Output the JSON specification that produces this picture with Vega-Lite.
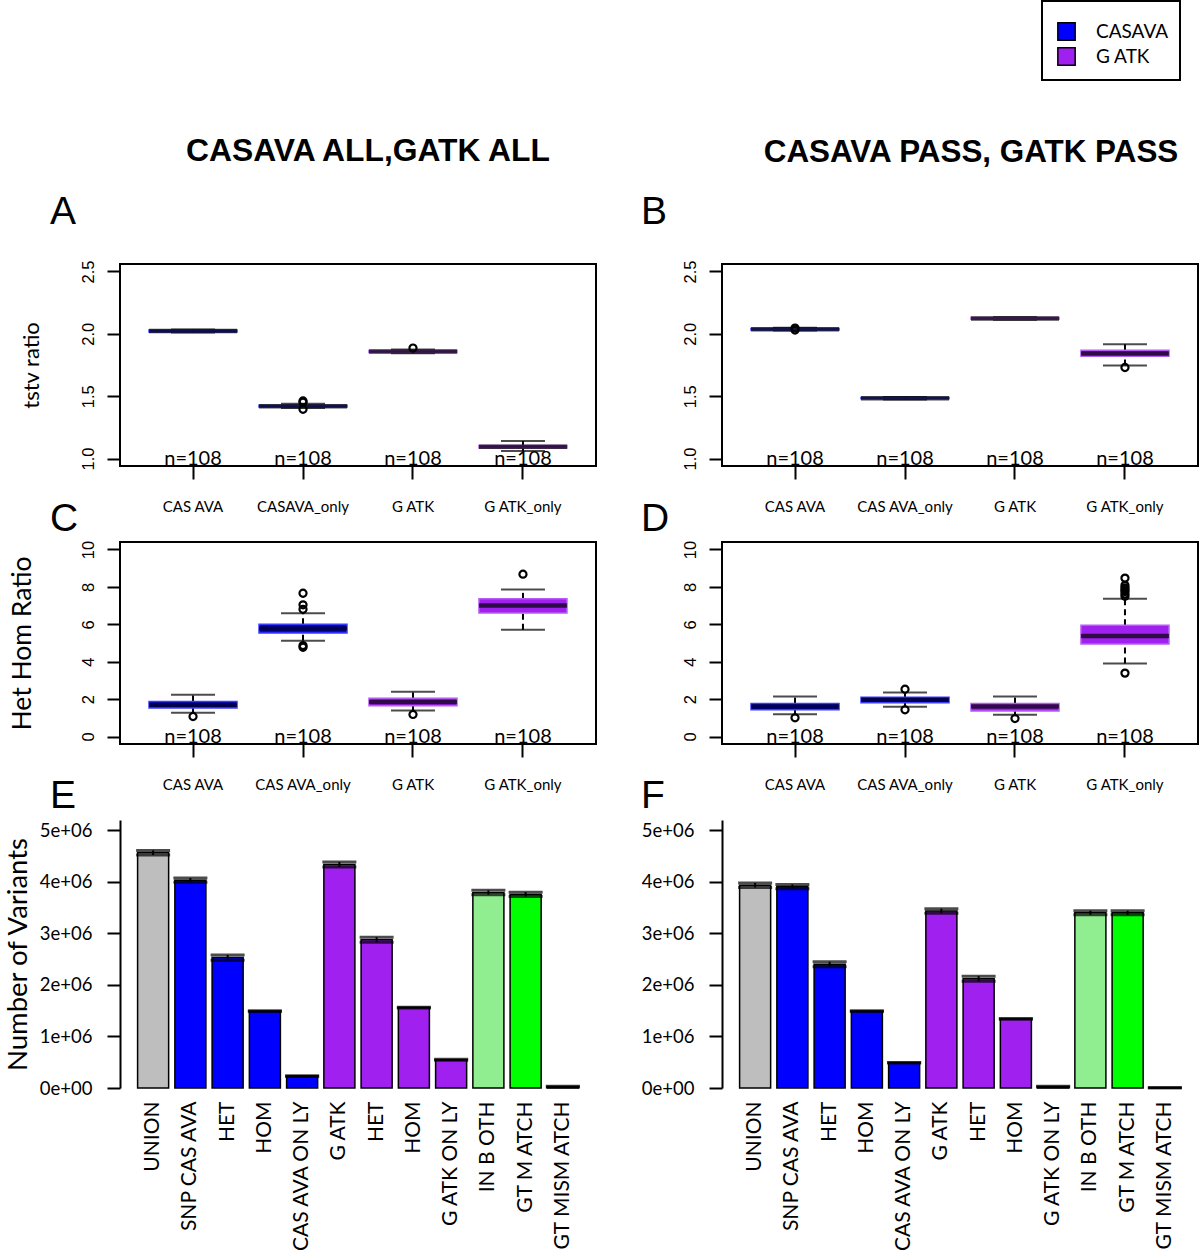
{
  "$schema": "https://vega.github.io/schema/vega-lite/v6.json",
  "background": "white",
  "padding": {"left": 4, "top": 0, "right": 0, "bottom": 0},
  "columns": 2,
  "bounds": "flush",
  "spacing": {"row": 76, "column": 126},
  "resolve": {"scale": {"fill": "independent", "stroke": "independent"}},
  "config": {
    "view": {"stroke": null},
    "font": "Lato",
    "axis": {"grid": false, "domainColor": "black", "domainWidth": 2, "tickColor": "black", "tickWidth": 2, "tickSize": 13, "labelColor": "black", "titleColor": "black", "labelFont": "Lato", "titleFont": "Lato", "titleFontWeight": "normal", "labelOverlap": false},
    "legend": {"strokeWidth": 2},
    "title": {"color": "black"}
  },
  "datasets": {
    "a_box": [
      {"cat": "CAS AVA", "caller": "CASAVA", "lower": 2.01, "q1": 2.015, "median": 2.022, "q3": 2.03, "upper": 2.035, "n": "n=108"},
      {"cat": "CASAVA_only", "caller": "CASAVA", "lower": 1.405, "q1": 1.413, "median": 1.42, "q3": 1.428, "upper": 1.44, "n": "n=108"},
      {"cat": "G ATK", "caller": "G ATK", "lower": 1.845, "q1": 1.851, "median": 1.858, "q3": 1.866, "upper": 1.875, "n": "n=108"},
      {"cat": "G ATK_only", "caller": "G ATK", "lower": 1.06, "q1": 1.085, "median": 1.095, "q3": 1.105, "upper": 1.14, "n": "n=108"}
    ],
    "a_out": [
      {"cat": "CASAVA_only", "v": 1.395},
      {"cat": "CASAVA_only", "v": 1.452},
      {"cat": "CASAVA_only", "v": 1.462},
      {"cat": "G ATK", "v": 1.886}
    ],
    "b_box": [
      {"cat": "CAS AVA", "caller": "CASAVA", "lower": 2.027, "q1": 2.031, "median": 2.037, "q3": 2.043, "upper": 2.048, "n": "n=108"},
      {"cat": "CAS AVA_only", "caller": "CASAVA", "lower": 1.474, "q1": 1.479, "median": 1.484, "q3": 1.49, "upper": 1.494, "n": "n=108"},
      {"cat": "G ATK", "caller": "G ATK", "lower": 2.112, "q1": 2.117, "median": 2.123, "q3": 2.13, "upper": 2.135, "n": "n=108"},
      {"cat": "G ATK_only", "caller": "G ATK", "lower": 1.746, "q1": 1.82, "median": 1.842, "q3": 1.868, "upper": 1.917, "n": "n=108"}
    ],
    "b_out": [
      {"cat": "CAS AVA", "v": 2.03},
      {"cat": "CAS AVA", "v": 2.046},
      {"cat": "G ATK_only", "v": 1.73}
    ],
    "c_box": [
      {"cat": "CAS AVA", "caller": "CASAVA", "lower": 1.27, "q1": 1.52, "median": 1.7, "q3": 1.875, "upper": 2.23, "n": "n=108"},
      {"cat": "CAS AVA_only", "caller": "CASAVA", "lower": 5.125, "q1": 5.54, "median": 5.77, "q3": 6.0, "upper": 6.59, "n": "n=108"},
      {"cat": "G ATK", "caller": "G ATK", "lower": 1.39, "q1": 1.64, "median": 1.84, "q3": 2.04, "upper": 2.39, "n": "n=108"},
      {"cat": "G ATK_only", "caller": "G ATK", "lower": 5.71, "q1": 6.61, "median": 7.0, "q3": 7.36, "upper": 7.86, "n": "n=108"}
    ],
    "c_out": [
      {"cat": "CAS AVA", "v": 1.07},
      {"cat": "CAS AVA_only", "v": 7.66},
      {"cat": "CAS AVA_only", "v": 7.04},
      {"cat": "CAS AVA_only", "v": 6.8},
      {"cat": "CAS AVA_only", "v": 4.86},
      {"cat": "CAS AVA_only", "v": 4.77},
      {"cat": "G ATK", "v": 1.18},
      {"cat": "G ATK_only", "v": 8.68}
    ],
    "d_box": [
      {"cat": "CAS AVA", "caller": "CASAVA", "lower": 1.19, "q1": 1.43, "median": 1.6, "q3": 1.76, "upper": 2.14, "n": "n=108"},
      {"cat": "CAS AVA_only", "caller": "CASAVA", "lower": 1.59, "q1": 1.8, "median": 1.96, "q3": 2.1, "upper": 2.35, "n": "n=108"},
      {"cat": "G ATK", "caller": "G ATK", "lower": 1.16, "q1": 1.37, "median": 1.6, "q3": 1.76, "upper": 2.14, "n": "n=108"},
      {"cat": "G ATK_only", "caller": "G ATK", "lower": 3.9, "q1": 4.94, "median": 5.38, "q3": 5.95, "upper": 7.36, "n": "n=108"}
    ],
    "d_out": [
      {"cat": "CAS AVA", "v": 1.0},
      {"cat": "CAS AVA_only", "v": 2.53},
      {"cat": "CAS AVA_only", "v": 1.43},
      {"cat": "G ATK", "v": 0.96},
      {"cat": "G ATK_only", "v": 8.47},
      {"cat": "G ATK_only", "v": 8.08},
      {"cat": "G ATK_only", "v": 7.95},
      {"cat": "G ATK_only", "v": 7.85},
      {"cat": "G ATK_only", "v": 7.75},
      {"cat": "G ATK_only", "v": 7.62},
      {"cat": "G ATK_only", "v": 7.5},
      {"cat": "G ATK_only", "v": 3.39}
    ],
    "e_bar": [
      {"cat": "UNION", "grp": "union", "mean": 4565000, "lo": 4520000, "hi": 4610000},
      {"cat": "SNP CAS AVA", "grp": "casava", "mean": 4030000, "lo": 3990000, "hi": 4075000},
      {"cat": "HET|1", "grp": "casava", "mean": 2530000, "lo": 2480000, "hi": 2580000},
      {"cat": "HOM|1", "grp": "casava", "mean": 1490000, "lo": 1482000, "hi": 1498000},
      {"cat": "CAS AVA ON LY", "grp": "casava", "mean": 232000, "lo": 225000, "hi": 240000},
      {"cat": "G ATK", "grp": "gatk", "mean": 4335000, "lo": 4290000, "hi": 4385000},
      {"cat": "HET|2", "grp": "gatk", "mean": 2875000, "lo": 2830000, "hi": 2925000},
      {"cat": "HOM|2", "grp": "gatk", "mean": 1560000, "lo": 1552000, "hi": 1568000},
      {"cat": "G ATK ON LY", "grp": "gatk", "mean": 548000, "lo": 540000, "hi": 556000},
      {"cat": "IN B OTH", "grp": "both", "mean": 3790000, "lo": 3750000, "hi": 3835000},
      {"cat": "GT M ATCH", "grp": "match", "mean": 3755000, "lo": 3715000, "hi": 3800000},
      {"cat": "GT MISM ATCH", "grp": "mismatch", "mean": 26000, "lo": 20000, "hi": 32000}
    ],
    "f_bar": [
      {"cat": "UNION", "grp": "union", "mean": 3935000, "lo": 3890000, "hi": 3980000},
      {"cat": "SNP CAS AVA", "grp": "casava", "mean": 3910000, "lo": 3865000, "hi": 3950000},
      {"cat": "HET|1", "grp": "casava", "mean": 2400000, "lo": 2355000, "hi": 2450000},
      {"cat": "HOM|1", "grp": "casava", "mean": 1490000, "lo": 1482000, "hi": 1498000},
      {"cat": "CAS AVA ON LY", "grp": "casava", "mean": 490000, "lo": 484000, "hi": 496000},
      {"cat": "G ATK", "grp": "gatk", "mean": 3435000, "lo": 3390000, "hi": 3480000},
      {"cat": "HET|2", "grp": "gatk", "mean": 2120000, "lo": 2070000, "hi": 2170000},
      {"cat": "HOM|2", "grp": "gatk", "mean": 1340000, "lo": 1332000, "hi": 1348000},
      {"cat": "G ATK ON LY", "grp": "gatk", "mean": 26000, "lo": 20000, "hi": 32000},
      {"cat": "IN B OTH", "grp": "both", "mean": 3400000, "lo": 3360000, "hi": 3440000},
      {"cat": "GT M ATCH", "grp": "match", "mean": 3400000, "lo": 3360000, "hi": 3440000},
      {"cat": "GT MISM ATCH", "grp": "mismatch", "mean": 5000, "lo": 3000, "hi": 7000}
    ]
  },
  "concat": [
    {
      "width": 476, "height": 20,
      "data": {"values": [{"t": ""}]},
      "mark": {"type": "text"},
      "encoding": {"text": {"field": "t"}},
      "title": {"text": "CASAVA ALL,GATK ALL", "anchor": "middle", "frame": "group", "dx": 10, "dy": 31, "offset": 6, "baseline": "alphabetic", "font": "Liberation Sans", "fontSize": 31.8, "fontWeight": "bold"}
    },
    {
      "width": 476, "height": 20,
      "data": {"values": [{"caller": "CASAVA"}, {"caller": "G ATK"}]},
      "mark": {"type": "square", "opacity": 0, "size": 1},
      "encoding": {"color": {"field": "caller", "type": "nominal", "scale": {"domain": ["CASAVA", "G ATK"], "range": ["#0000ff", "#a020f0"]}, "legend": {"title": " ", "titleFontSize": 6, "titlePadding": 4, "orient": "none", "legendX": 922, "legendY": -167, "symbolType": "square", "symbolSize": 300, "symbolOpacity": 1, "symbolStrokeColor": "black", "symbolStrokeWidth": 1.5, "symbolOffset": 4, "labelFont": "Lato", "labelFontSize": 19, "labelColor": "black", "labelOffset": 20, "rowPadding": 0, "padding": 11, "strokeColor": "black"}}},
      "title": {"text": "CASAVA PASS, GATK PASS", "anchor": "middle", "frame": "group", "dx": 11, "dy": 31, "offset": 6, "baseline": "alphabetic", "font": "Liberation Sans", "fontSize": 31.4, "fontWeight": "bold"}
    },
    {
      "width": 476, "height": 202,
      "view": {"stroke": "black", "strokeWidth": 2},
      "title": {"text": "A", "anchor": "start", "frame": "group", "dx": -70, "dy": 36, "offset": 33, "baseline": "alphabetic", "font": "Liberation Sans", "fontSize": 39, "fontWeight": "normal"},
      "encoding": {"x": {"field": "cat", "type": "nominal", "scale": {"domain": ["CAS AVA", "CASAVA_only", "G ATK", "G ATK_only"], "paddingInner": 0.2, "paddingOuter": 0.264}, "axis": {"title": null, "domain": false, "labelAngle": 0, "labelFontSize": 15, "labelPadding": 20, "labelBaseline": "top"}}},
      "layer": [
        {"data": {"name": "a_box"}, "mark": {"type": "rule", "color": "black", "strokeWidth": 2, "strokeDash": [6, 4]}, "encoding": {"y": {"field": "q3", "type": "quantitative", "title": "tstv ratio", "scale": {"domain": [0.94, 2.56], "nice": false, "zero": false}, "axis": {"values": [1, 1.5, 2, 2.5], "format": ".1f", "labelAngle": -90, "labelAlign": "center", "labelBaseline": "bottom", "labelFont": "Liberation Sans", "labelFontSize": 16.5, "labelPadding": 11, "domain": false, "titleFontSize": 22, "titlePadding": 37}}, "y2": {"field": "upper"}}},
        {"data": {"name": "a_box"}, "mark": {"type": "rule", "color": "black", "strokeWidth": 2, "strokeDash": [6, 4]}, "encoding": {"y": {"field": "lower", "type": "quantitative", "title": "tstv ratio"}, "y2": {"field": "q1"}}},
        {"data": {"name": "a_box"}, "mark": {"type": "tick", "color": "black", "size": 44, "thickness": 2}, "encoding": {"y": {"field": "upper", "type": "quantitative", "title": "tstv ratio"}}},
        {"data": {"name": "a_box"}, "mark": {"type": "tick", "color": "black", "size": 44, "thickness": 2}, "encoding": {"y": {"field": "lower", "type": "quantitative", "title": "tstv ratio"}}},
        {"data": {"name": "a_box"}, "mark": {"type": "bar", "strokeWidth": 1.5}, "encoding": {"y": {"field": "q1", "type": "quantitative", "title": "tstv ratio"}, "y2": {"field": "q3"}, "fill": {"field": "caller", "type": "nominal", "scale": {"domain": ["CASAVA", "G ATK"], "range": ["#0000ff", "#a020f0"]}, "legend": null}, "stroke": {"field": "caller", "type": "nominal", "scale": {"domain": ["CASAVA", "G ATK"], "range": ["#3c3cff", "#b65cf3"]}, "legend": null}}},
        {"data": {"name": "a_box"}, "mark": {"type": "tick", "color": "black", "size": 88, "thickness": 4.5}, "encoding": {"y": {"field": "median", "type": "quantitative", "title": "tstv ratio"}}},
        {"data": {"name": "a_out"}, "mark": {"type": "point", "filled": false, "color": "black", "strokeWidth": 2.2, "size": 50, "opacity": 1}, "encoding": {"y": {"field": "v", "type": "quantitative", "title": "tstv ratio"}}},
        {"data": {"name": "a_box"}, "mark": {"type": "text", "baseline": "middle", "fontSize": 20, "font": "Lato", "color": "black"}, "encoding": {"y": {"datum": 1, "type": "quantitative", "title": "tstv ratio"}, "text": {"field": "n"}}}
      ]
    },
    {
      "width": 476, "height": 202,
      "view": {"stroke": "black", "strokeWidth": 2},
      "title": {"text": "B", "anchor": "start", "frame": "group", "dx": -81, "dy": 36, "offset": 33, "baseline": "alphabetic", "font": "Liberation Sans", "fontSize": 39, "fontWeight": "normal"},
      "encoding": {"x": {"field": "cat", "type": "nominal", "scale": {"domain": ["CAS AVA", "CAS AVA_only", "G ATK", "G ATK_only"], "paddingInner": 0.2, "paddingOuter": 0.264}, "axis": {"title": null, "domain": false, "labelAngle": 0, "labelFontSize": 15, "labelPadding": 20, "labelBaseline": "top"}}},
      "layer": [
        {"data": {"name": "b_box"}, "mark": {"type": "rule", "color": "black", "strokeWidth": 2, "strokeDash": [6, 4]}, "encoding": {"y": {"field": "q3", "type": "quantitative", "title": null, "scale": {"domain": [0.94, 2.56], "nice": false, "zero": false}, "axis": {"values": [1, 1.5, 2, 2.5], "format": ".1f", "labelAngle": -90, "labelAlign": "center", "labelBaseline": "bottom", "labelFont": "Liberation Sans", "labelFontSize": 16.5, "labelPadding": 11, "domain": false}}, "y2": {"field": "upper"}}},
        {"data": {"name": "b_box"}, "mark": {"type": "rule", "color": "black", "strokeWidth": 2, "strokeDash": [6, 4]}, "encoding": {"y": {"field": "lower", "type": "quantitative", "title": null}, "y2": {"field": "q1"}}},
        {"data": {"name": "b_box"}, "mark": {"type": "tick", "color": "black", "size": 44, "thickness": 2}, "encoding": {"y": {"field": "upper", "type": "quantitative", "title": null}}},
        {"data": {"name": "b_box"}, "mark": {"type": "tick", "color": "black", "size": 44, "thickness": 2}, "encoding": {"y": {"field": "lower", "type": "quantitative", "title": null}}},
        {"data": {"name": "b_box"}, "mark": {"type": "bar", "strokeWidth": 1.5}, "encoding": {"y": {"field": "q1", "type": "quantitative", "title": null}, "y2": {"field": "q3"}, "fill": {"field": "caller", "type": "nominal", "scale": {"domain": ["CASAVA", "G ATK"], "range": ["#0000ff", "#a020f0"]}, "legend": null}, "stroke": {"field": "caller", "type": "nominal", "scale": {"domain": ["CASAVA", "G ATK"], "range": ["#3c3cff", "#b65cf3"]}, "legend": null}}},
        {"data": {"name": "b_box"}, "mark": {"type": "tick", "color": "black", "size": 88, "thickness": 4.5}, "encoding": {"y": {"field": "median", "type": "quantitative", "title": null}}},
        {"data": {"name": "b_out"}, "mark": {"type": "point", "filled": false, "color": "black", "strokeWidth": 2.2, "size": 50, "opacity": 1}, "encoding": {"y": {"field": "v", "type": "quantitative", "title": null}}},
        {"data": {"name": "b_box"}, "mark": {"type": "text", "baseline": "middle", "fontSize": 20, "font": "Lato", "color": "black"}, "encoding": {"y": {"datum": 1, "type": "quantitative", "title": null}, "text": {"field": "n"}}}
      ]
    },
    {
      "width": 476, "height": 202,
      "view": {"stroke": "black", "strokeWidth": 2},
      "title": {"text": "C", "anchor": "start", "frame": "group", "dx": -70, "dy": 36, "offset": 6, "baseline": "alphabetic", "font": "Liberation Sans", "fontSize": 39, "fontWeight": "normal"},
      "encoding": {"x": {"field": "cat", "type": "nominal", "scale": {"domain": ["CAS AVA", "CAS AVA_only", "G ATK", "G ATK_only"], "paddingInner": 0.2, "paddingOuter": 0.264}, "axis": {"title": null, "domain": false, "labelAngle": 0, "labelFontSize": 15, "labelPadding": 20, "labelBaseline": "top"}}},
      "layer": [
        {"data": {"name": "c_box"}, "mark": {"type": "rule", "color": "black", "strokeWidth": 2, "strokeDash": [6, 4]}, "encoding": {"y": {"field": "q3", "type": "quantitative", "title": "Het Hom Ratio", "scale": {"domain": [-0.4, 10.4], "nice": false, "zero": false}, "axis": {"values": [0, 2, 4, 6, 8, 10], "format": "d", "labelAngle": -90, "labelAlign": "center", "labelBaseline": "bottom", "labelFont": "Liberation Sans", "labelFontSize": 16.5, "labelPadding": 11, "domain": false, "titleFontSize": 26.5, "titlePadding": 44}}, "y2": {"field": "upper"}}},
        {"data": {"name": "c_box"}, "mark": {"type": "rule", "color": "black", "strokeWidth": 2, "strokeDash": [6, 4]}, "encoding": {"y": {"field": "lower", "type": "quantitative", "title": "Het Hom Ratio"}, "y2": {"field": "q1"}}},
        {"data": {"name": "c_box"}, "mark": {"type": "tick", "color": "black", "size": 44, "thickness": 2}, "encoding": {"y": {"field": "upper", "type": "quantitative", "title": "Het Hom Ratio"}}},
        {"data": {"name": "c_box"}, "mark": {"type": "tick", "color": "black", "size": 44, "thickness": 2}, "encoding": {"y": {"field": "lower", "type": "quantitative", "title": "Het Hom Ratio"}}},
        {"data": {"name": "c_box"}, "mark": {"type": "bar", "strokeWidth": 1.5}, "encoding": {"y": {"field": "q1", "type": "quantitative", "title": "Het Hom Ratio"}, "y2": {"field": "q3"}, "fill": {"field": "caller", "type": "nominal", "scale": {"domain": ["CASAVA", "G ATK"], "range": ["#0000ff", "#a020f0"]}, "legend": null}, "stroke": {"field": "caller", "type": "nominal", "scale": {"domain": ["CASAVA", "G ATK"], "range": ["#3c3cff", "#b65cf3"]}, "legend": null}}},
        {"data": {"name": "c_box"}, "mark": {"type": "tick", "color": "black", "size": 88, "thickness": 4.5}, "encoding": {"y": {"field": "median", "type": "quantitative", "title": "Het Hom Ratio"}}},
        {"data": {"name": "c_out"}, "mark": {"type": "point", "filled": false, "color": "black", "strokeWidth": 2.2, "size": 50, "opacity": 1}, "encoding": {"y": {"field": "v", "type": "quantitative", "title": "Het Hom Ratio"}}},
        {"data": {"name": "c_box"}, "mark": {"type": "text", "baseline": "middle", "fontSize": 20, "font": "Lato", "color": "black"}, "encoding": {"y": {"datum": 0, "type": "quantitative", "title": "Het Hom Ratio"}, "text": {"field": "n"}}}
      ]
    },
    {
      "width": 476, "height": 202,
      "view": {"stroke": "black", "strokeWidth": 2},
      "title": {"text": "D", "anchor": "start", "frame": "group", "dx": -81, "dy": 36, "offset": 6, "baseline": "alphabetic", "font": "Liberation Sans", "fontSize": 39, "fontWeight": "normal"},
      "encoding": {"x": {"field": "cat", "type": "nominal", "scale": {"domain": ["CAS AVA", "CAS AVA_only", "G ATK", "G ATK_only"], "paddingInner": 0.2, "paddingOuter": 0.264}, "axis": {"title": null, "domain": false, "labelAngle": 0, "labelFontSize": 15, "labelPadding": 20, "labelBaseline": "top"}}},
      "layer": [
        {"data": {"name": "d_box"}, "mark": {"type": "rule", "color": "black", "strokeWidth": 2, "strokeDash": [6, 4]}, "encoding": {"y": {"field": "q3", "type": "quantitative", "title": null, "scale": {"domain": [-0.4, 10.4], "nice": false, "zero": false}, "axis": {"values": [0, 2, 4, 6, 8, 10], "format": "d", "labelAngle": -90, "labelAlign": "center", "labelBaseline": "bottom", "labelFont": "Liberation Sans", "labelFontSize": 16.5, "labelPadding": 11, "domain": false}}, "y2": {"field": "upper"}}},
        {"data": {"name": "d_box"}, "mark": {"type": "rule", "color": "black", "strokeWidth": 2, "strokeDash": [6, 4]}, "encoding": {"y": {"field": "lower", "type": "quantitative", "title": null}, "y2": {"field": "q1"}}},
        {"data": {"name": "d_box"}, "mark": {"type": "tick", "color": "black", "size": 44, "thickness": 2}, "encoding": {"y": {"field": "upper", "type": "quantitative", "title": null}}},
        {"data": {"name": "d_box"}, "mark": {"type": "tick", "color": "black", "size": 44, "thickness": 2}, "encoding": {"y": {"field": "lower", "type": "quantitative", "title": null}}},
        {"data": {"name": "d_box"}, "mark": {"type": "bar", "strokeWidth": 1.5}, "encoding": {"y": {"field": "q1", "type": "quantitative", "title": null}, "y2": {"field": "q3"}, "fill": {"field": "caller", "type": "nominal", "scale": {"domain": ["CASAVA", "G ATK"], "range": ["#0000ff", "#a020f0"]}, "legend": null}, "stroke": {"field": "caller", "type": "nominal", "scale": {"domain": ["CASAVA", "G ATK"], "range": ["#3c3cff", "#b65cf3"]}, "legend": null}}},
        {"data": {"name": "d_box"}, "mark": {"type": "tick", "color": "black", "size": 88, "thickness": 4.5}, "encoding": {"y": {"field": "median", "type": "quantitative", "title": null}}},
        {"data": {"name": "d_out"}, "mark": {"type": "point", "filled": false, "color": "black", "strokeWidth": 2.2, "size": 50, "opacity": 1}, "encoding": {"y": {"field": "v", "type": "quantitative", "title": null}}},
        {"data": {"name": "d_box"}, "mark": {"type": "text", "baseline": "middle", "fontSize": 20, "font": "Lato", "color": "black"}, "encoding": {"y": {"datum": 0, "type": "quantitative", "title": null}, "text": {"field": "n"}}}
      ]
    },
    {
      "width": 476, "height": 268,
      "title": {"text": "E", "anchor": "start", "frame": "group", "dx": -70, "dy": 36, "offset": 9, "baseline": "alphabetic", "font": "Liberation Sans", "fontSize": 39, "fontWeight": "normal"},
      "encoding": {"x": {"field": "cat", "type": "nominal", "scale": {"domain": ["UNION", "SNP CAS AVA", "HET|1", "HOM|1", "CAS AVA ON LY", "G ATK", "HET|2", "HOM|2", "G ATK ON LY", "IN B OTH", "GT M ATCH", "GT MISM ATCH"], "paddingInner": 0.1667, "paddingOuter": 0.4725}, "axis": {"title": null, "labelAngle": -90, "labelAlign": "right", "labelBaseline": "middle", "ticks": false, "domain": false, "labelPadding": 13, "labelFontSize": 21, "labelLimit": 400, "labelExpr": "split(datum.label, '|')[0]"}}},
      "layer": [
        {"data": {"name": "e_bar"}, "mark": {"type": "bar", "stroke": "black", "strokeWidth": 1.5}, "encoding": {"y": {"field": "mean", "type": "quantitative", "title": "Number of Variants", "scale": {"domain": [0, 5200000], "nice": false}, "axis": {"values": [0, 1000000, 2000000, 3000000, 4000000, 5000000], "labelExpr": "datum.value == 0 ? '0e+00' : format(datum.value / 1000000, 'd') + 'e+06'", "labelFontSize": 18.5, "labelPadding": 15, "domain": true, "titleFontSize": 27.5, "titlePadding": 6.5}}, "fill": {"field": "grp", "type": "nominal", "scale": {"domain": ["union", "casava", "gatk", "both", "match", "mismatch"], "range": ["#bebebe", "#0000ff", "#a020f0", "#90ee90", "#00ff00", "#000000"]}, "legend": null}}},
        {"data": {"name": "e_bar"}, "mark": {"type": "rule", "color": "black", "strokeWidth": 2}, "encoding": {"y": {"field": "lo", "type": "quantitative", "title": "Number of Variants"}, "y2": {"field": "hi"}}},
        {"data": {"name": "e_bar"}, "mark": {"type": "tick", "color": "black", "size": 34, "thickness": 3}, "encoding": {"y": {"field": "hi", "type": "quantitative", "title": "Number of Variants"}}},
        {"data": {"name": "e_bar"}, "mark": {"type": "tick", "color": "black", "size": 34, "thickness": 3}, "encoding": {"y": {"field": "lo", "type": "quantitative", "title": "Number of Variants"}}}
      ]
    },
    {
      "width": 476, "height": 268,
      "title": {"text": "F", "anchor": "start", "frame": "group", "dx": -81, "dy": 36, "offset": 9, "baseline": "alphabetic", "font": "Liberation Sans", "fontSize": 39, "fontWeight": "normal"},
      "encoding": {"x": {"field": "cat", "type": "nominal", "scale": {"domain": ["UNION", "SNP CAS AVA", "HET|1", "HOM|1", "CAS AVA ON LY", "G ATK", "HET|2", "HOM|2", "G ATK ON LY", "IN B OTH", "GT M ATCH", "GT MISM ATCH"], "paddingInner": 0.1667, "paddingOuter": 0.4725}, "axis": {"title": null, "labelAngle": -90, "labelAlign": "right", "labelBaseline": "middle", "ticks": false, "domain": false, "labelPadding": 13, "labelFontSize": 21, "labelLimit": 400, "labelExpr": "split(datum.label, '|')[0]"}}},
      "layer": [
        {"data": {"name": "f_bar"}, "mark": {"type": "bar", "stroke": "black", "strokeWidth": 1.5}, "encoding": {"y": {"field": "mean", "type": "quantitative", "title": null, "scale": {"domain": [0, 5200000], "nice": false}, "axis": {"values": [0, 1000000, 2000000, 3000000, 4000000, 5000000], "labelExpr": "datum.value == 0 ? '0e+00' : format(datum.value / 1000000, 'd') + 'e+06'", "labelFontSize": 18.5, "labelPadding": 15, "domain": true}}, "fill": {"field": "grp", "type": "nominal", "scale": {"domain": ["union", "casava", "gatk", "both", "match", "mismatch"], "range": ["#bebebe", "#0000ff", "#a020f0", "#90ee90", "#00ff00", "#000000"]}, "legend": null}}},
        {"data": {"name": "f_bar"}, "mark": {"type": "rule", "color": "black", "strokeWidth": 2}, "encoding": {"y": {"field": "lo", "type": "quantitative", "title": null}, "y2": {"field": "hi"}}},
        {"data": {"name": "f_bar"}, "mark": {"type": "tick", "color": "black", "size": 34, "thickness": 3}, "encoding": {"y": {"field": "hi", "type": "quantitative", "title": null}}},
        {"data": {"name": "f_bar"}, "mark": {"type": "tick", "color": "black", "size": 34, "thickness": 3}, "encoding": {"y": {"field": "lo", "type": "quantitative", "title": null}}}
      ]
    }
  ]
}
